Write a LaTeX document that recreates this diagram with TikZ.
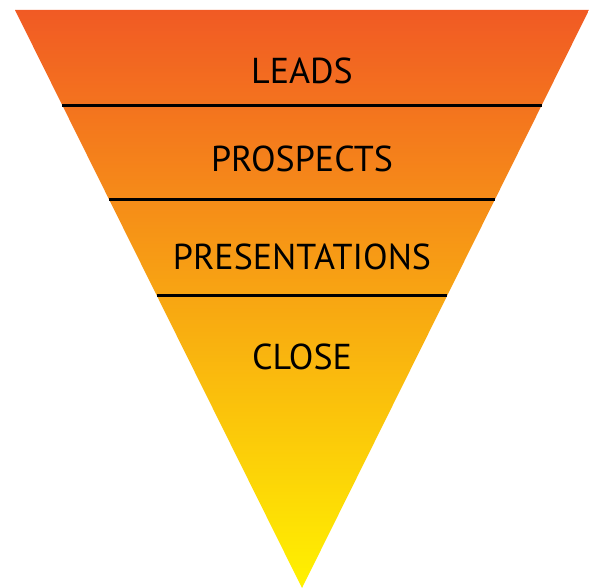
\documentclass[tikz,border=0pt]{standalone}
\usepackage{fontspec}
\setmainfont{PT Sans}
\usepackage{tikz}
\usetikzlibrary{calc}

\definecolor{funneltop}{RGB}{241,90,36}
\definecolor{funnelmid}{RGB}{249,169,58}
\definecolor{funnelbot}{RGB}{255,242,0}

\begin{document}
\begin{tikzpicture}[
  x=1pt, y=-1pt,
  divider/.style={line width=3pt},
  stage/.style={font=\fontsize{36}{36}\selectfont, text=black, inner sep=0pt}
]
\useasboundingbox[fill=white] (0,0) rectangle (589,588);
\coordinate (tl) at (15,10);
\coordinate (tr) at (589,10);
\coordinate (apex) at (302,588);
% funnel body
\shade[top color=funneltop, middle color=funnelmid, bottom color=funnelbot]
  (tl) -- (tr) -- (apex) -- cycle;
% dividers
\foreach \t [count=\i] in {0.1644,0.3287,0.4948} {
  \coordinate (l\i) at ($(tl)!\t!(apex)$);
  \coordinate (r\i) at ($(tr)!\t!(apex)$);
  \draw[divider] (l\i) -- (r\i);
}
% stages
\node[stage] (leads) at (302,70.5) {LEADS};
\node[stage] (prospects) at (302,158.5) {PROSPECTS};
\node[stage] (presentations) at (302,256.5) {PRESENTATIONS};
\node[stage] (close) at (302,356.5) {CLOSE};
\end{tikzpicture}
\end{document}
